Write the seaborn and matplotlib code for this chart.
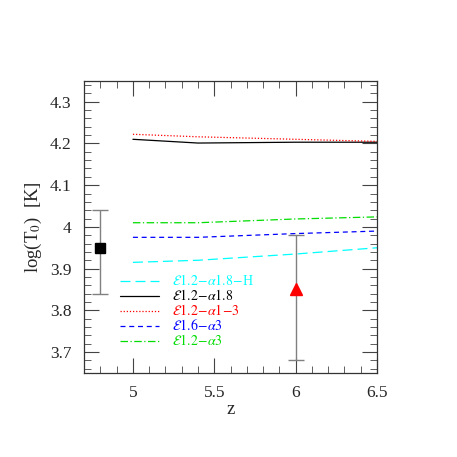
import numpy as np
import pandas as pd
import matplotlib
matplotlib.use('Agg')
import matplotlib.pyplot as plt
import seaborn as sns
from matplotlib.ticker import MultipleLocator, FuncFormatter

sns.set_style('ticks')
plt.rcParams['font.family'] = ['Liberation Serif', 'DejaVu Serif']
plt.rcParams['mathtext.fontset'] = 'stix'

# model curves
z_mod = [5.0, 5.4, 6.0, 6.5]
t_h = [3.915, 3.920, 3.935, 3.950]
t_a18 = [4.210, 4.201, 4.203, 4.203]
t_a13 = [4.222, 4.216, 4.210, 4.205]
t_e16 = [3.975, 3.975, 3.984, 3.990]
t_a3 = [4.010, 4.010, 4.019, 4.024]

labels = [r'$\mathcal{E}1.2\!-\!\alpha1.8\!-\!$H', r'$\mathcal{E}1.2\!-\!\alpha1.8$',
          r'$\mathcal{E}1.2\!-\!\alpha1\!-\!3$', r'$\mathcal{E}1.6\!-\!\alpha3$',
          r'$\mathcal{E}1.2\!-\!\alpha3$']
series = [t_h, t_a18, t_a13, t_e16, t_a3]
colors = ['cyan', 'black', 'red', 'blue', '#00dd00']
dashes = [(0, (8, 4)), '-', (0, (1, 1.5)), (0, (4, 3)), (0, (6, 2, 1, 2))]

# observations
z_obs = [4.8, 6.0]
t_obs = [3.95, 3.85]
t_lo = [3.84, 3.68]
t_hi = [4.04, 3.98]

fig = plt.figure(figsize=(4.57, 4.57), dpi=100)
ax = fig.add_axes([0.184, 0.184, 0.641, 0.639])

rows = []
for lab, s in zip(labels, series):
    for z, t in zip(z_mod, s):
        rows.append({'z': z, 'T': t, 'model': lab})
df = pd.DataFrame(rows)

for lab, c, ls in zip(labels, colors, dashes):
    sns.lineplot(data=df[df['model'] == lab], x='z', y='T', color=c,
                 linestyle=ls, linewidth=0.9, label=lab, ax=ax)

for i, m, c, s in [(0, 's', 'black', 7), (1, '^', 'red', 9)]:
    ax.errorbar(z_obs[i], t_obs[i],
                yerr=[[t_obs[i] - t_lo[i]], [t_hi[i] - t_obs[i]]],
                fmt=m, color=c, ms=s, ecolor='gray', elinewidth=1,
                capsize=6, capthick=1, zorder=5)

ax.set_xlim(4.7, 6.5)
ax.set_ylim(3.65, 4.35)
ax.xaxis.set_major_locator(MultipleLocator(0.5))
ax.xaxis.set_minor_locator(MultipleLocator(0.1))
ax.yaxis.set_major_locator(MultipleLocator(0.1))
ax.yaxis.set_minor_locator(MultipleLocator(0.02))
fmt = FuncFormatter(lambda v, p: '%g' % round(v, 2))
ax.xaxis.set_major_formatter(fmt)
ax.yaxis.set_major_formatter(fmt)
ax.tick_params(which='both', direction='in', top=True, right=True,
               labelsize=12.5, color='#444444')
ax.tick_params(which='major', length=11, width=0.8, pad=9)
ax.tick_params(which='minor', length=5, width=0.6)
for sp in ax.spines.values():
    sp.set_linewidth(0.9)
    sp.set_color('#333333')

ax.set_xlabel('z', fontsize=13.5, labelpad=0)
ax.set_ylabel(r'log(T$_0$)  [K]', fontsize=13.5, labelpad=4)

leg = ax.legend(loc='lower left', bbox_to_anchor=(0.1, 0.06), frameon=False,
                fontsize=10, handlelength=2.8, handletextpad=0.9,
                labelspacing=0.0, borderpad=0)
for txt, c in zip(leg.get_texts(), colors):
    txt.set_color(c)

fig.savefig('out.png', dpi=100)
